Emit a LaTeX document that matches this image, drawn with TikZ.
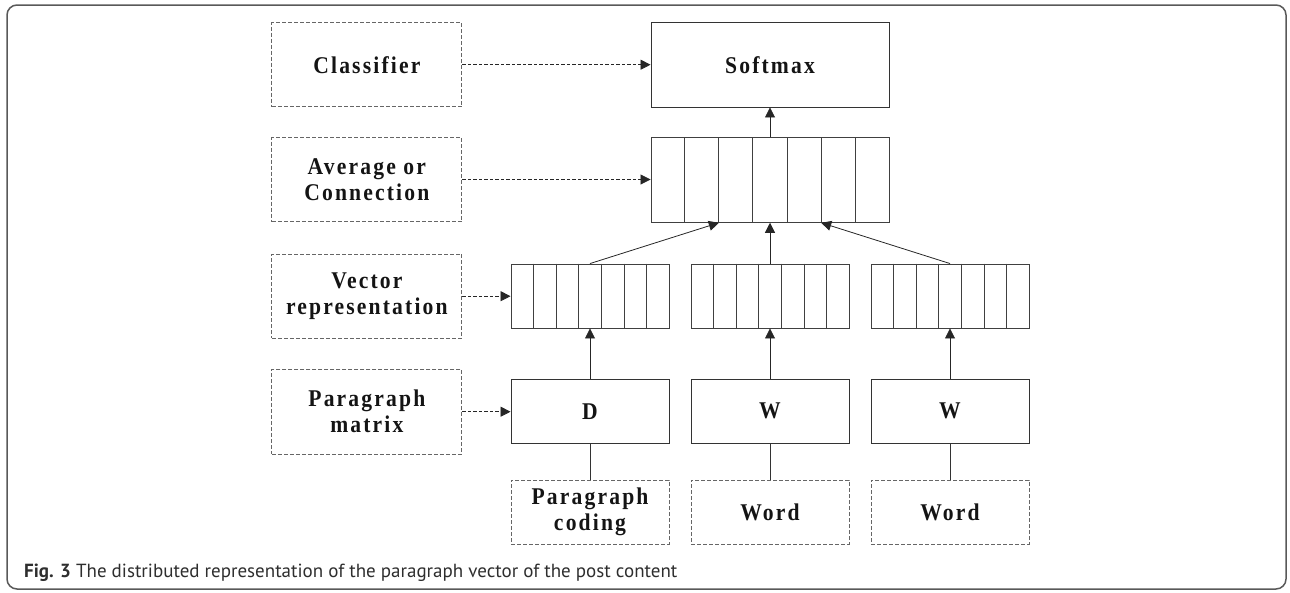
\documentclass[tikz,border=0pt]{standalone}
\usepackage{fontspec}
\setmainfont{Liberation Serif}
\newfontfamily\boxfont[LetterSpace=9,FakeStretch=0.9]{Liberation Serif}
\newfontfamily\capfont{PT Sans}
\usetikzlibrary{arrows.meta,calc}
\tikzset{
  solidbox/.style={draw=black!80, line width=0.9pt, inner sep=0pt, align=center,
    text=black!92, font=\boxfont\bfseries\fontsize{24}{26}\selectfont},
  dashbox/.style={solidbox, draw=black!60, dash pattern=on 4pt off 2pt},
  cellvec/.style={draw=black!75, line width=0.9pt, inner sep=0pt},
  arr/.style={draw=black!85, line width=0.8pt, -{Triangle[length=10pt,width=10pt]}},
  dasharr/.style={arr, dash pattern=on 3.5pt off 2pt},
  plainline/.style={draw=black!80, line width=0.8pt},
  frameline/.style={draw=black!65, line width=1.5pt, rounded corners=10pt}
}
\begin{document}
\begin{tikzpicture}[x=1pt,y=-1pt]
\useasboundingbox (0,0) rectangle (1290,592);
\draw[frameline] (7,5) rectangle (1286,589);

% left dashed labels
\node[dashbox, minimum width=190pt, minimum height=84pt] (cls) at (366.85,64.7) {Classifier};
\node[dashbox, minimum width=190pt, minimum height=84pt] (avg) at (366.85,179.5) {Average or\\Connection};
\node[dashbox, minimum width=190pt, minimum height=84pt] (vecrep) at (366.85,296.2) {Vector\\representation};
\node[dashbox, minimum width=190pt, minimum height=84.5pt] (pmat) at (366.85,411.7) {Paragraph\\matrix};

% softmax and top vector
\node[solidbox, minimum width=238pt, minimum height=84.3pt] (softmax) at (770,64.85) {Softmax};
\node[cellvec, minimum width=238pt, minimum height=84.6pt] (vtop) at (770,180) {};
\foreach \i in {1,...,6}{
  \draw[draw=black!75, line width=0.9pt] ($(vtop.north west)!\i/7!(vtop.north east)$) -- ($(vtop.south west)!\i/7!(vtop.south east)$);
}
\coordinate (vt2) at ($(vtop.south west)!2/7!(vtop.south east)$);
\coordinate (vt5) at ($(vtop.south west)!5/7!(vtop.south east)$);

% vector arrays
\foreach \n/\x in {arrA/590, arrB/770, arrC/950}{
  \node[cellvec, minimum width=158pt, minimum height=64pt] (\n) at (\x,296) {};
  \foreach \i in {1,...,6}{
    \draw[draw=black!75, line width=0.9pt] ($(\n.north west)!\i/7!(\n.north east)$) -- ($(\n.south west)!\i/7!(\n.south east)$);
  }
}

% matrices
\node[solidbox, minimum width=158pt, minimum height=64pt] (D) at (590,411.3) {D};
\node[solidbox, minimum width=158pt, minimum height=64pt] (W1) at (770,411.3) {W};
\node[solidbox, minimum width=158pt, minimum height=64pt] (W2) at (950,411.3) {W};

% inputs
\node[dashbox, minimum width=158pt, minimum height=64pt] (pcode) at (590,512.2) {Paragraph\\coding};
\node[dashbox, minimum width=158pt, minimum height=64pt] (word1) at (770,512.2) {Word};
\node[dashbox, minimum width=158pt, minimum height=64pt] (word2) at (950,512.2) {Word};

% dashed arrows
\draw[dasharr] (cls.east) -- (cls.east -| softmax.west);
\draw[dasharr] (avg.east) -- (avg.east -| vtop.west);
\draw[dasharr] (vecrep.east) -- (vecrep.east -| arrA.west);
\draw[dasharr] (pmat.east) -- (pmat.east -| D.west);

% solid arrows
\draw[arr] (vtop.north) -- (softmax.south);
\draw[arr] (arrA.north) -- (vt2);
\draw[arr] (arrB.north) -- (vtop.south);
\draw[arr] (arrC.north) -- (vt5);
\draw[arr] (D.north) -- (arrA.south);
\draw[arr] (W1.north) -- (arrB.south);
\draw[arr] (W2.north) -- (arrC.south);

% plain lines
\draw[plainline] (pcode.north) -- (D.south);
\draw[plainline] (word1.north) -- (W1.south);
\draw[plainline] (word2.north) -- (W2.south);

% caption
\node[anchor=base west, inner sep=0pt, text=black!82, font=\capfont\fontsize{19}{22}\selectfont] (cap) at (24,577) {\textbf{Fig. 3} The distributed representation of the paragraph vector of the post content};
\end{tikzpicture}
\end{document}
